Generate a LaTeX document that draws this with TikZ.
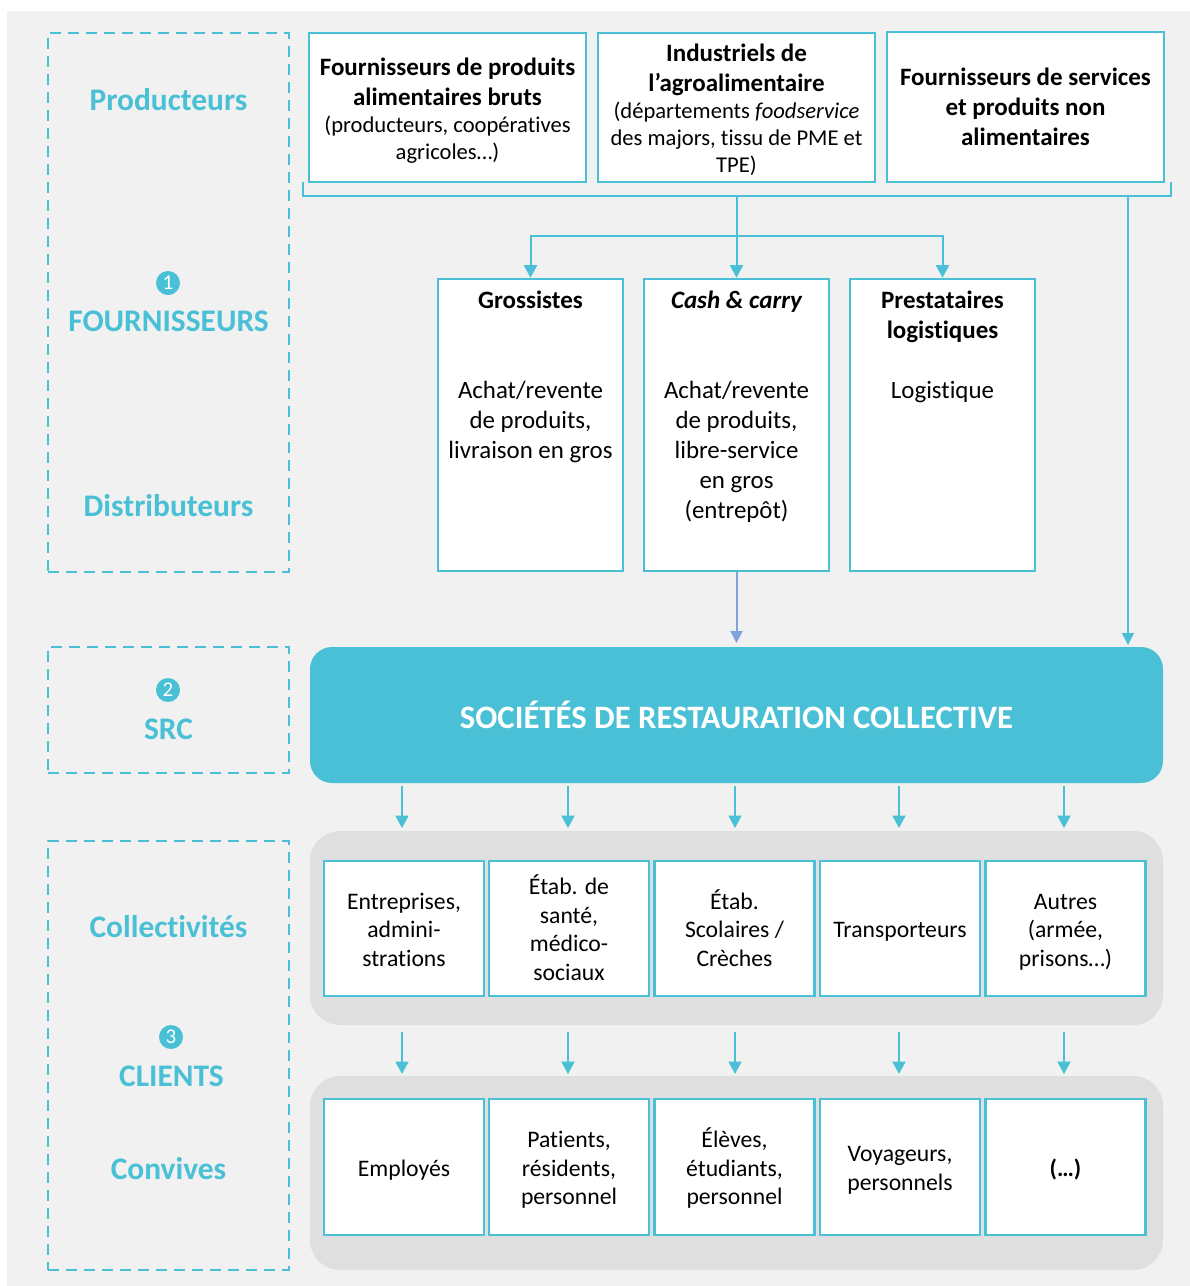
\documentclass[tikz,border=0pt]{standalone}
\usepackage{fontspec}
\setmainfont[Ligatures=NoCommon]{Carlito}
\usetikzlibrary{arrows.meta}
\definecolor{teal}{HTML}{49C0D5}
\definecolor{bgrey}{HTML}{F1F1F1}
\definecolor{lgrey}{HTML}{DFDFDF}
\definecolor{bluearr}{HTML}{7FA3DC}
\newcommand{\hd}{\fontsize{25}{30}\selectfont\bfseries}
\newcommand{\sm}{\fontsize{22.6}{27}\selectfont\mdseries}
\newcommand{\md}{\fontsize{24.9}{30}\selectfont}
\newcommand{\cl}{\fontsize{23.7}{28.5}\selectfont}
\newcommand{\cbox}[1]{\parbox[c]{155pt}{\vspace{7pt}\centering\cl\strut #1\strut}}
\newcommand{\tbox}[1]{\parbox[c]{272pt}{\centering #1}}
\tikzset{
  whitebox/.style={draw=teal,line width=2.6pt,fill=white,inner sep=0pt,outer sep=1.3pt,align=center,text=black},
  dashbox/.style={draw=teal,line width=2.7pt,dash pattern=on 11pt off 7pt,inner sep=0pt,outer sep=0pt},
  pill/.style={fill=lgrey,rounded corners=30pt,inner sep=0pt,outer sep=0pt},
  label/.style={text=teal,font=\fontsize{31.4}{34}\selectfont\bfseries,inner sep=0pt},
  badge/.style={circle,fill=teal,text=white,minimum size=24pt,inner sep=0pt,font=\fontsize{21}{21}\selectfont},
  conn/.style={draw=teal,line width=2pt},
  arr/.style={conn,-{Triangle[length=12.5pt,width=13pt]}},
}
\begin{document}
\begin{tikzpicture}[x=1pt,y=-1pt]
\useasboundingbox (0,0) rectangle (1190,1286);
\fill[bgrey] (7,11) rectangle (1190,1286);
% left dashed boxes
\node[dashbox,minimum width=241pt,minimum height=539pt] (d1) at (168.5,302.5) {};
\node[dashbox,minimum width=241pt,minimum height=126pt] (d2) at (168.5,710) {};
\node[dashbox,minimum width=241pt,minimum height=429pt] (d3) at (168.5,1055.5) {};
% left labels
\node[label] (lprod) at (168.5,99.7) {Producteurs};
\node[badge] (b1) at (168,283) {1};
\node[label] (lfour) at (168.5,321) {FOURNISSEURS};
\node[label] (ldist) at (168.5,505.5) {Distributeurs};
\node[badge] (b2) at (168,690) {2};
\node[label] (lsrc) at (168.5,729) {SRC};
\node[label] (lcoll) at (168.5,926.5) {Collectivités};
\node[badge] (b3) at (171,1037) {3};
\node[label] (lcli) at (171.5,1076) {CLIENTS};
\node[label] (lconv) at (168.5,1168.5) {Convives};
% top boxes
\node[whitebox,minimum width=277pt,minimum height=149pt] (t1) at (447.5,107.5) {\tbox{\vspace{6pt}\hd Fournisseurs de produits\par alimentaires bruts\par \sm (producteurs, coopératives\par agricoles…)}};
\node[whitebox,minimum width=277pt,minimum height=149pt] (t2) at (736.5,107.5) {\tbox{\vspace{5pt}\hd Industriels de\par l’agroalimentaire\par \sm (départements \textit{foodservice}\par des majors, tissu de PME et\par TPE)}};
\node[whitebox,minimum width=277pt,minimum height=150pt] (t3) at (1025.5,107) {\tbox{\hd Fournisseurs de services\par et produits non\par alimentaires}};
% bracket
\coordinate (brLt) at (303,182);
\coordinate (brLb) at (303,196);
\coordinate (brRb) at (1171,196);
\coordinate (brRt) at (1171,182);
\coordinate (trunk) at (736.5,196);
\coordinate (branch) at (736.5,236);
\coordinate (side) at (1128,196);
\coordinate (sideend) at (1128,645);
\draw[conn,line width=1.6pt] (brLt) -- (brLb) -- (brRb) -- (brRt);
% middle boxes
\node[whitebox,minimum width=185pt,minimum height=292pt] (m1) at (530.5,425) {\parbox[c][269pt][t]{178pt}{\centering\hd Grossistes\\[60pt]\md\mdseries Achat/revente\\de produits,\\livraison en gros}};
\node[whitebox,minimum width=185pt,minimum height=292pt] (m2) at (736.5,425) {\parbox[c][269pt][t]{178pt}{\centering\hd\itshape Cash \& carry\\[60pt]\md\mdseries\upshape Achat/revente\\de produits,\\libre-service\\en gros\\(entrepôt)}};
\node[whitebox,minimum width=185pt,minimum height=292pt] (m3) at (942.5,425) {\parbox[c][269pt][t]{178pt}{\centering\hd Prestataires\\logistiques\\[30pt]\md\mdseries Logistique}};
\draw[arr] (trunk) -- (m2.north);
\draw[arr] (branch) -| (m1.north);
\draw[arr] (branch) -| (m3.north);
% SRC
\node[fill=teal,rounded corners=22pt,minimum width=853pt,minimum height=136pt,inner sep=0pt,outer sep=0pt,text=white,font=\fontsize{32.7}{34}\selectfont\bfseries] (src) at (736.5,715) {SOCIÉTÉS DE RESTAURATION COLLECTIVE};
\draw[conn,line width=1.5pt,-{Triangle[length=12pt,width=12pt]}] (side) -- (sideend);
\coordinate (srcin) at (736.5,643);
\draw[draw=bluearr,line width=2pt,-{Triangle[length=12pt,width=12pt]}] (m2.south) -- (srcin);
% grey bands
\node[pill,minimum width=853pt,minimum height=194pt] (g1) at (736.5,928) {};
\node[pill,minimum width=853pt,minimum height=194pt] (g2) at (736.5,1173) {};
% client boxes
\foreach \nm/\cx/\txt in {
 c1/404/{Entreprises,\\admini-\\strations},
 c2/569/{Étab. de\\santé,\\médico-\\sociaux},
 c3/734.5/{Étab.\\Scolaires /\\Crèches},
 c4/900/{Transporteurs},
 c5/1065.5/{Autres\\(armée,\\prisons…)}}
 {\node[whitebox,minimum width=160pt,minimum height=135pt] (\nm) at (\cx,928.5) {\cbox{\txt}};}
\foreach \nm/\cx/\txt in {
 e1/404/{Employés},
 e2/569/{Patients,\\résidents,\\personnel},
 e3/734.5/{Élèves,\\étudiants,\\personnel},
 e4/900/{Voyageurs,\\personnels},
 e5/1065.5/{\textbf{(…)}}}
 {\node[whitebox,minimum width=160pt,minimum height=136pt] (\nm) at (\cx,1167) {\cbox{\txt}};}
% arrows
\foreach \i/\x in {1/402,2/568,3/735,4/899,5/1064}{
  \coordinate (s\i) at (\x,786);
  \coordinate (f\i) at (\x,828);
  \coordinate (u\i) at (\x,1032);
  \coordinate (v\i) at (\x,1074);
  \draw[arr] (s\i) -- (f\i);
  \draw[arr] (u\i) -- (v\i);
}
\end{tikzpicture}
\end{document}
